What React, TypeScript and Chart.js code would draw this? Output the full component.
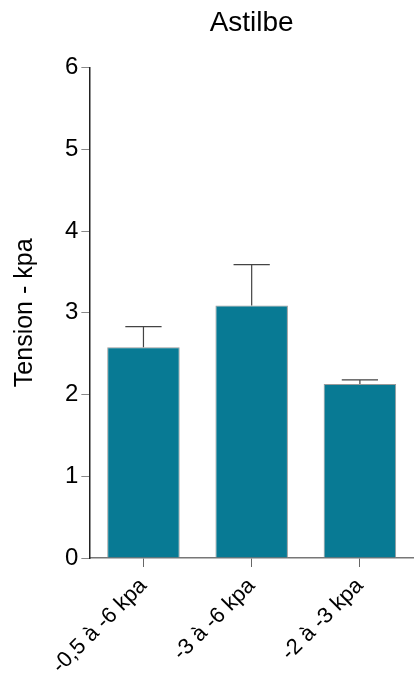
import React, { useEffect, useRef } from "react";
import { Chart, registerables } from "chart.js";

Chart.register(...registerables);

const categories = ["-0,5 à -6 kpa", "-3 à -6 kpa", "-2 à -3 kpa"];
const means = [2.58, 3.09, 2.13];
const errors = [0.25, 0.5, 0.05];
const yTicks = [0, 1, 2, 3, 4, 5, 6];

const FONT = "'Liberation Sans', Arial, sans-serif";

const errorBarPlugin = {
  id: "errorBars",
  afterDatasetsDraw(chart: any) {
    const ctx = chart.ctx;
    const meta = chart.getDatasetMeta(0);
    const yScale = chart.scales.y;
    ctx.save();
    ctx.strokeStyle = "#444";
    ctx.lineWidth = 1.2;
    meta.data.forEach((bar: any, i: number) => {
      const top = yScale.getPixelForValue(means[i] + errors[i]);
      const base = yScale.getPixelForValue(means[i]);
      const half = bar.width / 4;
      ctx.beginPath();
      ctx.moveTo(bar.x, base);
      ctx.lineTo(bar.x, top);
      ctx.moveTo(bar.x - half, top);
      ctx.lineTo(bar.x + half, top);
      ctx.stroke();
    });
    ctx.restore();
  },
};

export default function App() {
  const ref = useRef<HTMLCanvasElement>(null);
  useEffect(() => {
    const chart = new Chart(ref.current!, {
      type: "bar",
      data: {
        labels: categories,
        datasets: [
          {
            data: means,
            backgroundColor: "#087a94",
            borderColor: "#9a9a9a",
            borderWidth: 1,
            barPercentage: 0.67,
            categoryPercentage: 1,
          },
        ],
      },
      options: {
        responsive: false,
        animation: false,
        layout: { padding: { left: 10, right: 0, top: 0, bottom: 0 } },
        plugins: {
          legend: { display: false },
          tooltip: { enabled: false },
          title: {
            display: true,
            fullSize: false,
            text: "Astilbe",
            color: "#000",
            font: { family: FONT, size: 28, weight: "normal" },
            padding: { top: 6, bottom: 28 },
          },
        },
        scales: {
          x: {
            offset: true,
            afterFit: (axis: any) => {
              axis.height = 123;
            },
            grid: {
              display: true,
              drawOnChartArea: false,
              drawTicks: true,
              tickLength: 9,
              tickColor: "#666",
              offset: false,
            },
            border: { display: true, color: "#777", width: 1.5 },
            ticks: {
              color: "#000",
              font: { family: FONT, size: 22 },
              maxRotation: 45,
              minRotation: 45,
              padding: 6,
            },
          },
          y: {
            min: 0,
            max: 6,
            afterBuildTicks: (axis: any) => {
              axis.ticks = yTicks.map((v) => ({ value: v }));
            },
            grid: {
              display: true,
              drawOnChartArea: false,
              drawTicks: true,
              tickLength: 8,
              tickColor: "#888",
            },
            border: { display: true, color: "#222", width: 1.5 },
            ticks: {
              color: "#000",
              font: { family: FONT, size: 24 },
              padding: 3,
            },
            title: {
              display: true,
              text: "Tension - kpa",
              color: "#000",
              font: { family: FONT, size: 25 },
              padding: { top: 0, bottom: 22 },
            },
          },
        },
      },
      plugins: [errorBarPlugin],
    });
    return () => chart.destroy();
  }, []);
  return (
    <div style={{ position: "absolute", left: 0, top: 0, width: 414, height: 681, background: "#fff" }}>
      <canvas ref={ref} width={414} height={681} />
    </div>
  );
}
